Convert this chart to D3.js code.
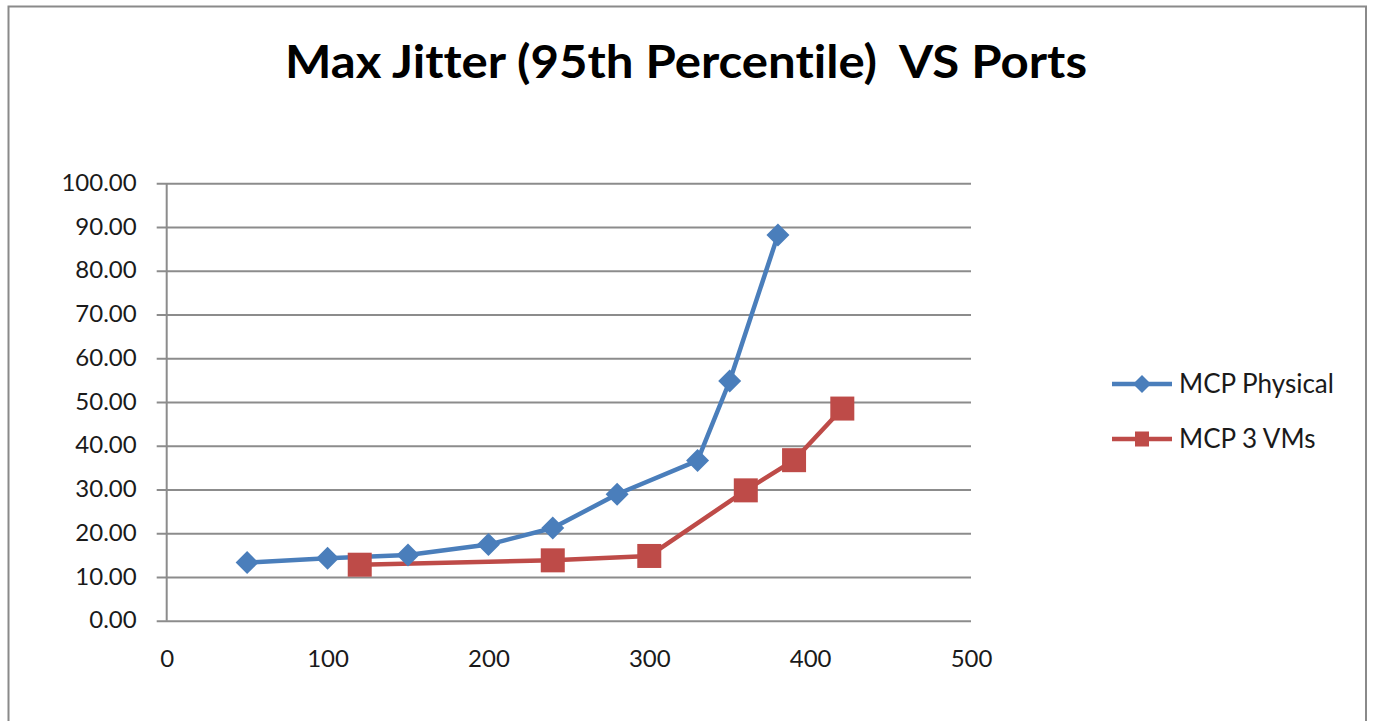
<!DOCTYPE html>
<html>
<head>
<meta charset="utf-8">
<script src="https://cdn.jsdelivr.net/npm/d3@7"></script>
<style>
  html, body { margin: 0; padding: 0; background: #fff; }
  svg { display: block; }
  text { font-variant-ligatures: none; font-feature-settings: "liga" 0, "clig" 0; }
</style>
</head>
<body>
<svg id="chart" width="1374" height="721"></svg>
<script>
// Ports vs. max jitter (95th percentile) for two MCP setups
const physicalPorts  = [50, 100, 150, 200, 240, 280, 330, 350, 380];
const physicalJitter = [13.3, 14.3, 15.0, 17.4, 21.2, 28.9, 36.6, 54.8, 88.2];
const vmPorts  = [120, 240, 300, 360, 390, 420];
const vmJitter = [12.8, 13.8, 14.8, 29.8, 36.7, 48.5];
const seriesNames = ["MCP Physical", "MCP 3 VMs"];
const xTicks = [0, 100, 200, 300, 400, 500];
const yTicks = [0, 10, 20, 30, 40, 50, 60, 70, 80, 90, 100];
const titleText = "Max Jitter (95th Percentile)  VS Ports";

const blue = "#4a7ebb", red = "#be4b48", grid = "#8c8c8c", ink = "#1a1a1a";
const font = "Lato, Calibri, 'Open Sans', 'Liberation Sans', sans-serif";

const svg = d3.select("#chart");

// outer frame
svg.append("rect")
  .attr("x", 8.5).attr("y", 6.5).attr("width", 1357.5).attr("height", 740)
  .attr("fill", "none").attr("stroke", "#8a8a8a").attr("stroke-width", 2);

// title
svg.append("text")
  .attr("x", 686).attr("y", 78)
  .attr("text-anchor", "middle")
  .attr("font-family", font).attr("font-weight", "bold")
  .attr("font-size", 46).attr("fill", "#000")
  .attr("textLength", 802).attr("lengthAdjust", "spacingAndGlyphs")
  .style("white-space", "pre")
  .text(titleText);

const x = d3.scaleLinear().domain([0, 500]).range([166.7, 971]);
const y = d3.scaleLinear().domain([0, 100]).range([620.7, 183.3]);

// horizontal gridlines with the left tick stubs
const yAxis = d3.axisLeft(y).tickValues(yTicks).tickFormat(d3.format(".2f"))
  .tickSize(-(x.range()[1] - x.range()[0])).tickPadding(30);
const gy = svg.append("g").attr("transform", `translate(${x.range()[0]},0)`).call(yAxis);
gy.select(".domain").remove();
gy.selectAll(".tick line")
  .attr("x1", -10)
  .attr("stroke", grid).attr("stroke-width", 2);
gy.selectAll(".tick text")
  .attr("font-family", font).attr("font-size", 24).attr("fill", ink)
  .attr("dy", "0.3em");

// vertical axis line
svg.append("line")
  .attr("x1", x(0)).attr("x2", x(0))
  .attr("y1", y(100)).attr("y2", y(0))
  .attr("stroke", grid).attr("stroke-width", 2);

// x tick labels
const xAxis = d3.axisBottom(x).tickValues(xTicks).tickSize(0).tickPadding(29);
const gx = svg.append("g").attr("transform", `translate(0,${y(0)})`).call(xAxis);
gx.select(".domain").remove();
gx.selectAll(".tick text")
  .attr("font-family", font).attr("font-size", 24).attr("fill", ink);

const line = d3.line().x(d => x(d[0])).y(d => y(d[1]));
const physical = physicalPorts.map((p, i) => [p, physicalJitter[i]]);
const vms = vmPorts.map((p, i) => [p, vmJitter[i]]);

const diamond = s => `M0,${-s} L${s},0 L0,${s} L${-s},0 Z`;

// series lines
svg.append("path").datum(physical).attr("d", line)
  .attr("fill", "none").attr("stroke", blue).attr("stroke-width", 4.5)
  .attr("stroke-linejoin", "round");
svg.append("path").datum(vms).attr("d", line)
  .attr("fill", "none").attr("stroke", red).attr("stroke-width", 4.5)
  .attr("stroke-linejoin", "round");

// markers
svg.append("g").selectAll("path").data(physical).join("path")
  .attr("transform", d => `translate(${x(d[0])},${y(d[1])})`)
  .attr("d", diamond(11.5)).attr("fill", blue);
svg.append("g").selectAll("rect").data(vms).join("rect")
  .attr("x", d => x(d[0]) - 12).attr("y", d => y(d[1]) - 12)
  .attr("width", 24).attr("height", 24).attr("fill", red);

// legend
const legend = svg.append("g");
const legendRows = [
  { name: seriesNames[0], color: blue, shape: "diamond", cy: 384 },
  { name: seriesNames[1], color: red, shape: "square", cy: 439 }
];
legendRows.forEach(r => {
  legend.append("line")
    .attr("x1", 1112).attr("x2", 1172).attr("y1", r.cy).attr("y2", r.cy)
    .attr("stroke", r.color).attr("stroke-width", 4.5);
  if (r.shape === "diamond") {
    legend.append("path").attr("transform", `translate(1142,${r.cy})`)
      .attr("d", diamond(9)).attr("fill", r.color);
  } else {
    legend.append("rect").attr("x", 1135).attr("y", r.cy - 7.5)
      .attr("width", 14).attr("height", 15).attr("fill", r.color);
  }
  legend.append("text")
    .attr("x", 1179).attr("y", r.cy).attr("dy", "0.35em")
    .attr("font-family", font).attr("font-size", 26).attr("fill", ink)
    .text(r.name);
});
</script>
</body>
</html>
